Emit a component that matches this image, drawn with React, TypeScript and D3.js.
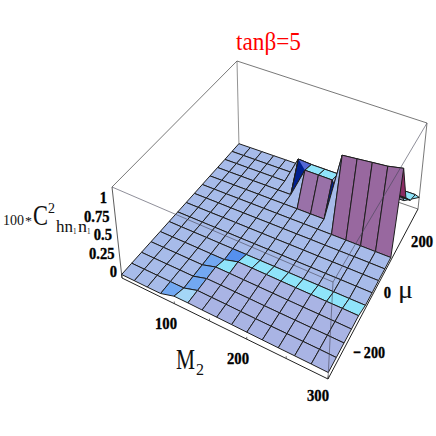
import React from 'react';
import * as d3 from 'd3';

// grid of the surface
const m2Values = d3.range(20, 301, 20);
const muValues = d3.range(-350, 351, 50);

// heights, first row is mu = -350, last row mu = 350
const heights = [
  [0, 0, 0, 0, .045, .045, .043, .041, .039, .037, .035, .034, .033, .032, .03],
  [0, 0, 0, 0, 0, .045, .043, .041, .039, .037, .035, .034, .033, .032, .03],
  [0, 0, 0, 0, 0, .045, .043, .041, .039, .037, .035, .034, .033, .032, .03],
  [0, 0, 0, 0, 0, .045, .043, .041, .039, .037, .035, .034, .033, .032, .03],
  [0, 0, 0, 0, 0, 0, .043, .041, .039, .037, .035, .034, .033, .032, .03],
  [0, 0, 0, 0, 0, 0, 0, 0, 0, 0, 0, 0, 0, 0, 0],
  [0, 0, 0, 0, 0, 0, 0, 0, 0, 0, 0, 0, 0, 0, 0],
  [0, 0, 0, 0, 0, 0, 0, 0, 0, 0, 0, 0, 0, 0, 0],
  [0, 0, 0, 0, 0, 0, 0, 0, 0, 0, 0, 0, 0, 0, 0],
  [0, 0, 0, 0, 0, 0, 0, 0, 0, 0, 0, 0, 0, 0, 0],
  [0, 0, 0, 0, 0, 0, 0, 0, 0, 0, .82, .84, .86, .88, .92],
  [0, 0, 0, 0, 0, 0, 0, .35, .35, .35, 0, .45, .45, .45, .45],
  [0, 0, 0, 0, 0, 0, .32, .31, .31, .31, 0, .3, .3, .3, .3],
  [0, 0, 0, 0, 0, 0, 0, 0, 0, 0, 0, .25, .25, .25, .25],
  [0, 0, 0, 0, 0, 0, 0, 0, 0, 0, 0, 0, 0, 0, .1],
];

const m2Ticks = [100, 200, 300];
const muTicks = [-200, 0, 200];
const zTicks = [0, 0.25, 0.5, 0.75, 1];
const m2Minor = [100, 150, 200, 250, 300];

// shades that the slope rule below can't give, keyed "i,j"; two shades split the cell
const BASE = '#a7bbe9', BLUE = '#72a8f2', DEEP = '#5590ee', PALE = '#a4d6f7', CYAN = '#8fe4fa', NAVY = '#00208f';
const cellShades: Record<string, string | [string, string]> = {
  '3,0': BLUE, '4,0': PALE, '4,1': BLUE, '4,2': BLUE, '4,3': BLUE, '5,3': CYAN, '5,4': DEEP,
  '5,10': BASE, '5,11': BASE, '5,12': BASE, '6,10': BASE, '6,11': [NAVY, '#5468d6'],
  '6,12': BASE, '9,10': NAVY, '9,11': BASE, '9,12': BASE, '9,9': BASE, '10,11': BASE, '10,12': BASE,
  '13,10': '#8a2c64', '13,11': '#3e0a22', '14,10': '#8a2c64', '13,12': CYAN, '13,13': CYAN,
};

type Pt = [number, number];

// unit square -> quad (Heckbert)
function quadMap(p0: Pt, p1: Pt, p2: Pt, p3: Pt) {
  const dx1 = p1[0] - p2[0], dx2 = p3[0] - p2[0], sx = p0[0] - p1[0] + p2[0] - p3[0];
  const dy1 = p1[1] - p2[1], dy2 = p3[1] - p2[1], sy = p0[1] - p1[1] + p2[1] - p3[1];
  const den = dx1 * dy2 - dx2 * dy1;
  const g = (sx * dy2 - dx2 * sy) / den;
  const h = (dx1 * sy - sx * dy1) / den;
  const a = p1[0] - p0[0] + g * p1[0], b = p3[0] - p0[0] + h * p3[0], c = p0[0];
  const d = p1[1] - p0[1] + g * p1[1], e = p3[1] - p0[1] + h * p3[1], f = p0[1];
  return (u: number, v: number): Pt => {
    const w = g * u + h * v + 1;
    return [(a * u + b * v + c) / w, (d * u + e * v + f) / w];
  };
}

// box corners, left / front / right / back
const floorMap = quadMap([122, 278], [328, 379], [418, 209], [239, 147]);
const topMap = quadMap([112, 187], [333, 282], [427, 123], [237, 61]);

const uScale = d3.scaleLinear().domain([20, 300]).range([0, 1]);
const vScale = d3.scaleLinear().domain([-350, 350]).range([0, 1]);
const zScale = d3.scaleLinear().domain([-0.04, 1]).range([0, 1]);

function project(m2: number, mu: number, z: number): Pt {
  const u = uScale(m2), v = vScale(mu), t = zScale(z);
  const a = floorMap(u, v), b = topMap(u, v);
  return [a[0] + (b[0] - a[0]) * t, a[1] + (b[1] - a[1]) * t];
}

const syColor = d3.scaleLinear<string>()
  .domain([-0.3, -0.2, -0.02, 0, 0.1, 0.5])
  .range(['#6e1440', CYAN, CYAN, BASE, '#9a7fb8', '#98689f'])
  .clamp(true);
const driftColor = d3.scaleLinear<string>()
  .domain([-0.001, 0])
  .range(['#a9b4e4', BASE])
  .clamp(true);

function cellColor(h: number[][], i: number, j: number) {
  const sx = (h[j][i + 1] + h[j + 1][i + 1] - h[j][i] - h[j + 1][i]) / 2;
  const sy = (h[j + 1][i] + h[j + 1][i + 1] - h[j][i] - h[j][i + 1]) / 2;
  if (Math.abs(sy) > 0.005) return syColor(sy);
  return driftColor(sx);
}

const pathOf = (pts: Pt[], close = true) =>
  'M' + pts.map(p => p[0].toFixed(1) + ',' + p[1].toFixed(1)).join('L') + (close ? 'Z' : '');
const serif = '"Liberation Serif", "Times New Roman", serif';

const m2LabelX = d3.scaleLinear().domain([100, 200, 300]).range([166, 238, 318]);
const m2LabelY = d3.scaleLinear().domain([100, 200, 300]).range([329, 364, 401]);
const muLabelX = d3.scaleLinear().domain([-200, 0, 200]).range([385, 391, 433]);
const muLabelY = d3.scaleLinear().domain([-200, 0, 200]).range([358, 298, 247]);
const zLabelX = d3.scaleLinear().domain([0, 1]).range([117, 107]);
const zLabelY = d3.scaleLinear().domain([0, 1]).range([277, 203]);

// condensed text: the reference's glyphs are narrower than the font's
const numWidth = (s: string) => s.replace(/[^0-9]/g, '').length * 7.3 + (s.includes('.') ? 3.6 : 0);

function Lbl({ x, y, w, size, children, anchor }: any) {
  return (
    <text x={x} y={y} fontSize={size} textAnchor={anchor} textLength={w} lengthAdjust="spacingAndGlyphs">{children}</text>
  );
}

export default function App() {
  const cells: React.ReactElement[] = [];
  // painter's order: far row first, front corner last
  for (let j = muValues.length - 2; j >= 0; j--) {
    for (let i = 0; i < m2Values.length - 1; i++) {
      const pts: Pt[] = [
        project(m2Values[i], muValues[j], heights[j][i]),
        project(m2Values[i + 1], muValues[j], heights[j][i + 1]),
        project(m2Values[i + 1], muValues[j + 1], heights[j + 1][i + 1]),
        project(m2Values[i], muValues[j + 1], heights[j + 1][i]),
      ];
      const shade = cellShades[i + ',' + j] ?? cellColor(heights, i, j);
      const key = i + '-' + j;
      if (Array.isArray(shade)) {
        cells.push(<path key={key} d={pathOf(pts)} fill={shade[0]} />);
        cells.push(<path key={key + 'b'} d={pathOf([pts[1], pts[2], pts[3]])} fill={shade[1]} stroke="none" />);
        cells.push(<path key={key + 'e'} d={pathOf(pts)} fill="none" />);
      } else {
        cells.push(<path key={key} d={pathOf(pts)} fill={shade} />);
      }
    }
  }

  const m0 = 20, m1 = 300, v0 = -350, v1 = 350, zLo = -0.04, zHi = 1;
  const line = (a: Pt, b: Pt, key: string, stroke = '#555', w = 0.8) => (
    <line key={key} x1={a[0]} y1={a[1]} x2={b[0]} y2={b[1]} stroke={stroke} strokeWidth={w} />
  );

  return (
    <svg width={436} height={436} viewBox="0 0 436 436"
      style={{ position: 'absolute', left: 0, top: 0, background: '#fff' }}>
      {/* back of the box */}
      {line(project(m0, v1, zLo), project(m0, v1, zHi), 'b1', '#777')}
      {line(project(m0, v0, zHi), project(m0, v1, zHi), 'b2')}
      {line(project(m0, v1, zHi), project(m1, v1, zHi), 'b3')}
      {line(project(m1, v1, zLo), project(m1, v1, zHi), 'b4')}
      {line(project(m0, v0, zLo), project(m0, v0, zHi), 'b5', '#333')}
      {line(project(m0, v1, zLo), project(m1, v1, zLo), 'b6')}
      {line(project(m0, v0, zLo), project(m1, v0, zLo), 'b7', '#222', 1)}
      {line(project(m1, v0, zLo), project(m1, v1, zLo), 'b8', '#222', 1)}

      <g stroke="#1e1e1e" strokeWidth={1} strokeLinejoin="round">
        {cells}
      </g>
      {line(project(m0, v0, 0), project(m0, v0, zLo), 'e1', '#222')}
      {line(project(m1, v0, 0), project(m1, v0, zLo), 'e2', '#222')}
      {m2Minor.map(m => line(project(m, v0, zLo), project(m, v0, -0.015), 'mt' + m, '#333', 0.7))}

      {/* front box edges show through the surface */}
      <g opacity={0.75}>
        {line(project(m0, v0, zHi), project(m1, v0, zHi), 'f1', '#445')}
        {line(project(m1, v0, zHi), project(m1, v1, zHi), 'f2', '#445')}
        {line(project(m1, v0, 0), project(m1, v0, zHi), 'f3', '#445')}
      </g>

      <g fontFamily={serif} fontWeight="bold" fill="#000" stroke="#000" strokeWidth={0.35}>
        {m2Ticks.map(t => (
          <Lbl key={t} x={m2LabelX(t)} y={m2LabelY(t)} w={22} size={17.5} anchor="middle">{String(t)}</Lbl>
        ))}
        {muTicks.map(t => (
          <Lbl key={t} x={muLabelX(t)} y={muLabelY(t)} w={t < 0 ? 32 : numWidth(String(t))} size={17.5} anchor="end">
            {t < 0 ? '\u2212\u2009' + Math.abs(t) : String(t)}
          </Lbl>
        ))}
        {zTicks.map(t => (
          <Lbl key={t} x={zLabelX(t)} y={zLabelY(t)} w={numWidth(String(t))} size={17.5} anchor="end">{String(t)}</Lbl>
        ))}
      </g>

      <g fontFamily={serif} fill="#ff0000">
        <Lbl x={236} y={50} w={65} size={25}>tanβ=5</Lbl>
      </g>

      <g fontFamily={serif} fill="#111">
        <Lbl x={176} y={369} w={19} size={29}>M</Lbl>
        <Lbl x={196} y={375} w={8} size={17}>2</Lbl>
        <Lbl x={3} y={225} w={21} size={15}>100</Lbl>
        <Lbl x={25} y={225} w={7} size={13}>*</Lbl>
        <Lbl x={33} y={225} w={15} size={30}>C</Lbl>
        <Lbl x={48} y={213} w={7} size={15}>2</Lbl>
        <Lbl x={56} y={232} w={17} size={17}>hn</Lbl>
        <Lbl x={73} y={234} w={3.5} size={9}>1</Lbl>
        <Lbl x={78} y={232} w={9} size={17}>n</Lbl>
        <Lbl x={87} y={234} w={3.5} size={9}>1</Lbl>
        <Lbl x={398} y={298} w={15} size={25}>μ</Lbl>
      </g>
    </svg>
  );
}
